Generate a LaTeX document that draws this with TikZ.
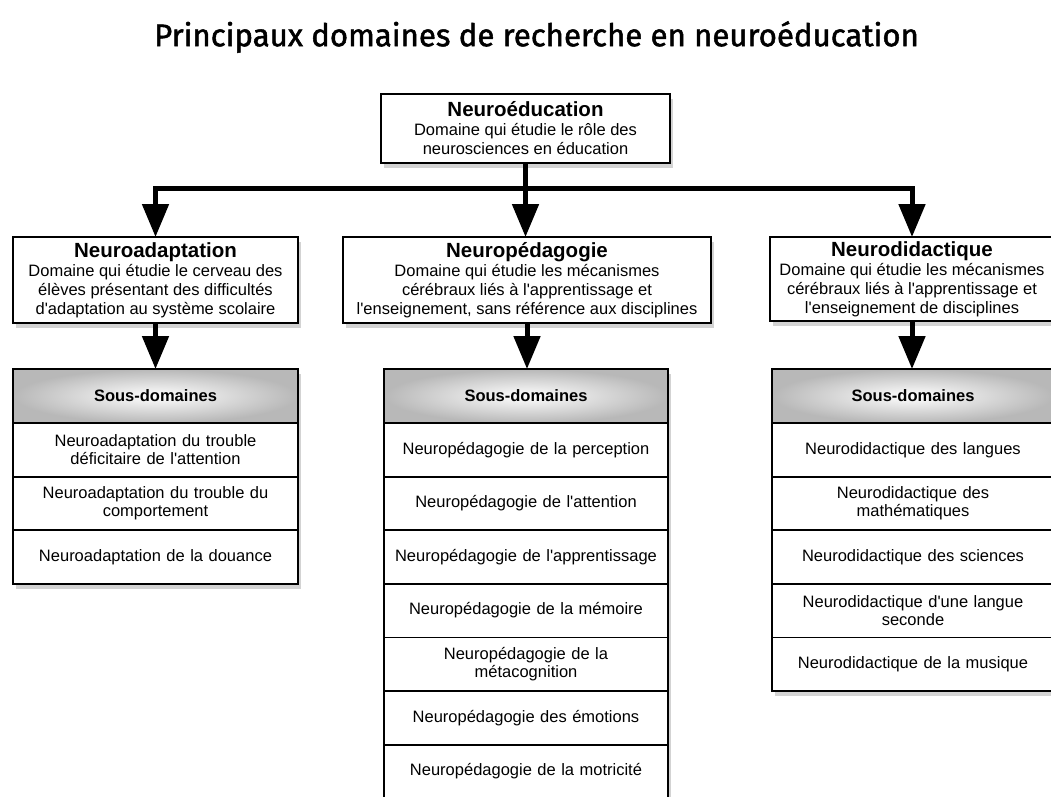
\documentclass[tikz,border=0pt]{standalone}
\usepackage{fontspec}
\setmainfont{Liberation Sans}[Ligatures=TeXOff]
\newfontfamily\titlefont{Fira Sans}[FakeBold=1.6]
\usetikzlibrary{positioning, arrows.meta, shadows}

\newcommand{\domtitle}[1]{{\fontsize{20.5}{21}\selectfont\bfseries #1}}

\tikzset{
	shade box/.style={drop shadow={shadow xshift=3pt, shadow yshift=-5pt, opacity=0.35}},
	box/.style={draw, line width=1.8pt, fill=white, align=center, outer sep=0pt, inner sep=2pt,
		font=\fontsize{16.5}{19}\selectfont, shade box},
	subhead/.style={draw, line width=1.8pt, outer sep=0pt, inner xsep=6pt, text width=#1,
		align=center, minimum height=54pt, font=\fontsize{16.5}{19}\selectfont\bfseries,
		shading=radial, inner color=white, outer color=black!28, shade box},
	subrow/.style={draw, line width=1.8pt, fill=white, outer sep=0pt, inner xsep=6pt, text width=#1,
		align=center, minimum height=53.6pt, font=\fontsize{16.5}{18.5}\selectfont, shade box},
	bus/.style={line width=5pt},
	link/.style={line width=5pt, -{Triangle[width=26pt,length=33pt]}}
}

\begin{document}
\begin{tikzpicture}[x=1pt, y=-1pt]
	\useasboundingbox (0,0) rectangle (1051,796);
	\clip (0,0) rectangle (1051,796);

	\node[font=\titlefont\fontsize{31.2}{34}\selectfont] (TITLE) at (536.5,37)
		{Principaux domaines de recherche en neuroéducation};

	% domaines
	\node[box, minimum width=289pt, minimum height=69pt] (EDU) at (525.5,128.5)
		{\domtitle{Neuroéducation}\\Domaine qui étudie le rôle des\\neurosciences en éducation};
	\node[box, minimum width=285pt, minimum height=86pt] (ADAPT) at (155.5,280)
		{\domtitle{Neuroadaptation}\\Domaine qui étudie le cerveau des\\élèves présentant des difficultés\\d'adaptation au système scolaire};
	\node[box, minimum width=368pt, minimum height=86pt] (PEDA) at (527,280)
		{\domtitle{Neuropédagogie}\\Domaine qui étudie les mécanismes\\cérébraux liés à l'apprentissage et\\l'enseignement, sans référence aux disciplines};
	\node[box, minimum width=284pt, minimum height=84pt] (DIDA) at (912,279)
		{\domtitle{Neurodidactique}\\Domaine qui étudie les mécanismes\\cérébraux liés à l'apprentissage et\\l'enseignement de disciplines};

	\coordinate (BUS) at (525.5,188);
	\draw[bus] (EDU.south) -- (BUS);
	\draw[link] (BUS) -| (ADAPT.north);
	\draw[link] (BUS) -- (BUS |- PEDA.north);
	\draw[link] (BUS) -| (DIDA.north);

	% sous-domaines : neuroadaptation
	\node[subhead=273pt] (SUBA) at (155.5,396) {Sous-domaines};
	\node[subrow=273pt, below=0pt of SUBA] (SUBA1) {Neuroadaptation du trouble\\déficitaire de l'attention};
	\node[subrow=273pt, below=0pt of SUBA1] (SUBA2) {Neuroadaptation du trouble du\\comportement};
	\node[subrow=273pt, below=0pt of SUBA2] (SUBA3) {Neuroadaptation de la douance};

	% sous-domaines : neuropedagogie
	\node[subhead=272pt] (SUBP) at (526,396) {Sous-domaines};
	\node[subrow=272pt, below=0pt of SUBP] (SUBP1) {Neuropédagogie de la perception};
	\node[subrow=272pt, below=0pt of SUBP1] (SUBP2) {Neuropédagogie de l'attention};
	\node[subrow=272pt, below=0pt of SUBP2] (SUBP3) {Neuropédagogie de l'apprentissage};
	\node[subrow=272pt, below=0pt of SUBP3] (SUBP4) {Neuropédagogie de la mémoire};
	\node[subrow=272pt, below=0pt of SUBP4] (SUBP5) {Neuropédagogie de la\\métacognition};
	\node[subrow=272pt, below=0pt of SUBP5] (SUBP6) {Neuropédagogie des émotions};
	\node[subrow=272pt, below=0pt of SUBP6] (SUBP7) {Neuropédagogie de la motricité};

	% sous-domaines : neurodidactique
	\node[subhead=270pt] (SUBD) at (913,396) {Sous-domaines};
	\node[subrow=270pt, below=0pt of SUBD] (SUBD1) {Neurodidactique des langues};
	\node[subrow=270pt, below=0pt of SUBD1] (SUBD2) {Neurodidactique des\\mathématiques};
	\node[subrow=270pt, below=0pt of SUBD2] (SUBD3) {Neurodidactique des sciences};
	\node[subrow=270pt, below=0pt of SUBD3] (SUBD4) {Neurodidactique d'une langue\\seconde};
	\node[subrow=270pt, below=0pt of SUBD4] (SUBD5) {Neurodidactique de la musique};

	\draw[link] (ADAPT.south) -- (ADAPT.south |- SUBA.north);
	\draw[link] (PEDA.south) -- (PEDA.south |- SUBP.north);
	\draw[link] (DIDA.south) -- (DIDA.south |- SUBD.north);
\end{tikzpicture}
\end{document}
